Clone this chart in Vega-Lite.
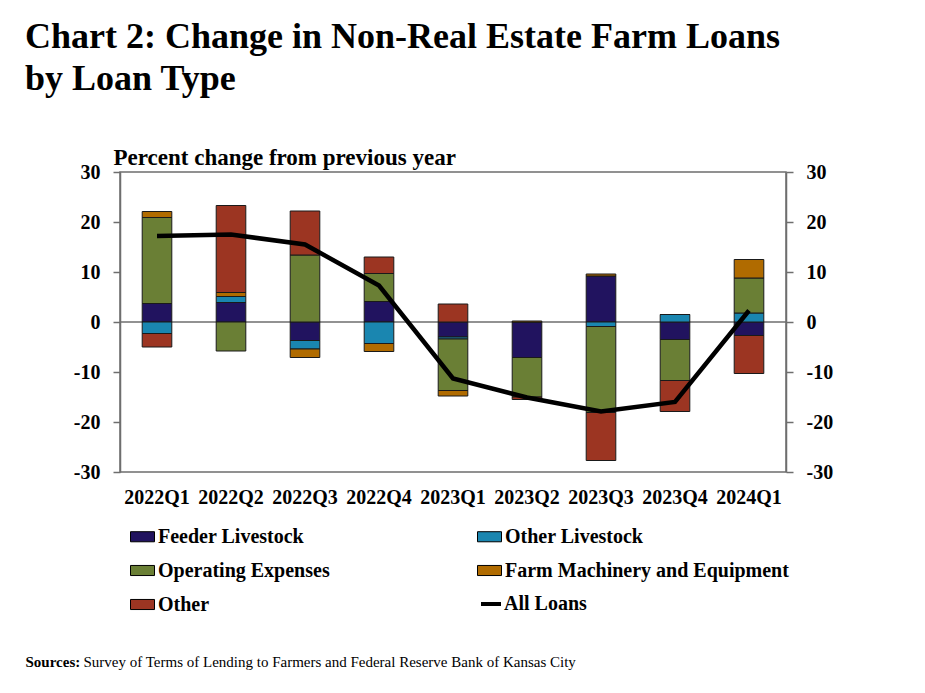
{
  "$schema": "https://vega.github.io/schema/vega-lite/v6.json",
  "width": 666,
  "height": 300,
  "autosize": {"type": "none"},
  "padding": {"left": 120, "top": 172, "right": 139, "bottom": 221},
  "background": "white",
  "config": {
    "font": "Liberation Serif",
    "view": {"stroke": "#6e6e6e", "strokeWidth": 1.5},
    "axis": {
      "grid": false,
      "labelFont": "Liberation Serif",
      "labelFontWeight": "bold",
      "labelFontSize": 20,
      "labelColor": "#000",
      "domainColor": "#6e6e6e",
      "domainWidth": 1.5,
      "tickColor": "#6e6e6e",
      "tickWidth": 1.5,
      "titleFont": "Liberation Serif",
      "titleColor": "#000"
    },
    "legend": {
      "labelFont": "Liberation Serif",
      "labelFontSize": 20,
      "labelFontWeight": "bold",
      "labelColor": "#000",
      "labelLimit": 400
    }
  },
  "title": {
    "text": ["Chart 2: Change in Non-Real Estate Farm Loans", "by Loan Type"],
    "anchor": "start",
    "frame": "group",
    "dx": -95,
    "offset": 48,
    "fontSize": 36,
    "fontWeight": "bold",
    "font": "Liberation Serif",
    "lineHeight": 42,
    "color": "#000"
  },
  "datasets": {
    "bars": [
      {"q": "2022Q1", "type": "Feeder Livestock", "order": 1, "value": 3.7},
      {"q": "2022Q1", "type": "Other Livestock", "order": 2, "value": -2.3},
      {"q": "2022Q1", "type": "Operating Expenses", "order": 3, "value": 17.2},
      {"q": "2022Q1", "type": "Farm Machinery and Equipment", "order": 4, "value": 1.2},
      {"q": "2022Q1", "type": "Other", "order": 5, "value": -2.7},
      {"q": "2022Q2", "type": "Feeder Livestock", "order": 1, "value": 3.9},
      {"q": "2022Q2", "type": "Other Livestock", "order": 2, "value": 1.2},
      {"q": "2022Q2", "type": "Operating Expenses", "order": 3, "value": -5.8},
      {"q": "2022Q2", "type": "Farm Machinery and Equipment", "order": 4, "value": 0.8},
      {"q": "2022Q2", "type": "Other", "order": 5, "value": 17.4},
      {"q": "2022Q3", "type": "Feeder Livestock", "order": 1, "value": -3.7},
      {"q": "2022Q3", "type": "Other Livestock", "order": 2, "value": -1.7},
      {"q": "2022Q3", "type": "Operating Expenses", "order": 3, "value": 13.4},
      {"q": "2022Q3", "type": "Farm Machinery and Equipment", "order": 4, "value": -1.7},
      {"q": "2022Q3", "type": "Other", "order": 5, "value": 8.8},
      {"q": "2022Q4", "type": "Feeder Livestock", "order": 1, "value": 4.1},
      {"q": "2022Q4", "type": "Other Livestock", "order": 2, "value": -4.3},
      {"q": "2022Q4", "type": "Operating Expenses", "order": 3, "value": 5.6},
      {"q": "2022Q4", "type": "Farm Machinery and Equipment", "order": 4, "value": -1.6},
      {"q": "2022Q4", "type": "Other", "order": 5, "value": 3.3},
      {"q": "2023Q1", "type": "Feeder Livestock", "order": 1, "value": -3.0},
      {"q": "2023Q1", "type": "Other Livestock", "order": 2, "value": -0.4},
      {"q": "2023Q1", "type": "Operating Expenses", "order": 3, "value": -10.3},
      {"q": "2023Q1", "type": "Farm Machinery and Equipment", "order": 4, "value": -1.1},
      {"q": "2023Q1", "type": "Other", "order": 5, "value": 3.6},
      {"q": "2023Q2", "type": "Feeder Livestock", "order": 1, "value": -7.1},
      {"q": "2023Q2", "type": "Other Livestock", "order": 2, "value": 0.0},
      {"q": "2023Q2", "type": "Operating Expenses", "order": 3, "value": -7.9},
      {"q": "2023Q2", "type": "Farm Machinery and Equipment", "order": 4, "value": 0.2},
      {"q": "2023Q2", "type": "Other", "order": 5, "value": -0.5},
      {"q": "2023Q3", "type": "Feeder Livestock", "order": 1, "value": 9.2},
      {"q": "2023Q3", "type": "Other Livestock", "order": 2, "value": -0.9},
      {"q": "2023Q3", "type": "Operating Expenses", "order": 3, "value": -17.2},
      {"q": "2023Q3", "type": "Farm Machinery and Equipment", "order": 4, "value": 0.4},
      {"q": "2023Q3", "type": "Other", "order": 5, "value": -9.6},
      {"q": "2023Q4", "type": "Feeder Livestock", "order": 1, "value": -3.5},
      {"q": "2023Q4", "type": "Other Livestock", "order": 2, "value": 1.5},
      {"q": "2023Q4", "type": "Operating Expenses", "order": 3, "value": -8.2},
      {"q": "2023Q4", "type": "Farm Machinery and Equipment", "order": 4, "value": 0.0},
      {"q": "2023Q4", "type": "Other", "order": 5, "value": -6.2},
      {"q": "2024Q1", "type": "Feeder Livestock", "order": 1, "value": -2.7},
      {"q": "2024Q1", "type": "Other Livestock", "order": 2, "value": 1.8},
      {"q": "2024Q1", "type": "Operating Expenses", "order": 3, "value": 7.0},
      {"q": "2024Q1", "type": "Farm Machinery and Equipment", "order": 4, "value": 3.7},
      {"q": "2024Q1", "type": "Other", "order": 5, "value": -7.6}
    ],
    "line": [
      {"q": "2022Q1", "label": "All Loans", "value": 17.2},
      {"q": "2022Q2", "label": "All Loans", "value": 17.5},
      {"q": "2022Q3", "label": "All Loans", "value": 15.5},
      {"q": "2022Q4", "label": "All Loans", "value": 7.3},
      {"q": "2023Q1", "label": "All Loans", "value": -11.3},
      {"q": "2023Q2", "label": "All Loans", "value": -15.1},
      {"q": "2023Q3", "label": "All Loans", "value": -17.9},
      {"q": "2023Q4", "label": "All Loans", "value": -16.0},
      {"q": "2024Q1", "label": "All Loans", "value": 2.3}
    ]
  },
  "resolve": {"axis": {"x": "independent", "y": "independent"}},
  "layer": [
    {
      "data": {"values": [{"zero": 0}]},
      "mark": {"type": "rule", "color": "#6e6e6e", "strokeWidth": 1.5},
      "encoding": {
        "y": {"field": "zero", "type": "quantitative", "axis": null, "scale": {"domain": [-30, 30], "nice": false}}
      }
    },
    {
      "data": {"name": "bars"},
      "mark": {"type": "bar", "stroke": "#1a1a1a", "strokeWidth": 1},
      "encoding": {
        "x": {
          "field": "q", "type": "nominal", "sort": null,
          "scale": {"paddingInner": 0.6, "paddingOuter": 0.3},
          "axis": {
            "orient": "bottom", "labelAngle": 0, "domain": false, "ticks": false, "labelPadding": 15,
            "title": "Sources:", "titleFontSize": 15, "titleFontWeight": "bold",
            "titleX": -95, "titleY": 194, "titleAlign": "left", "titleBaseline": "alphabetic"
          }
        },
        "y": {
          "field": "value", "type": "quantitative", "stack": "zero",
          "scale": {"domain": [-30, 30], "nice": false},
          "axis": {
            "orient": "left", "values": [-30, -20, -10, 0, 10, 20, 30],
            "labelExpr": "toString(datum.value)", "tickSize": 7, "labelPadding": 13,
            "title": "Percent change from previous year", "titleFontSize": 23, "titleFontWeight": "bold",
            "titleAngle": 0, "titleAlign": "left", "titleBaseline": "alphabetic", "titleX": -7, "titleY": -8
          }
        },
        "fill": {
          "field": "type", "type": "nominal",
          "scale": {
            "domain": ["Feeder Livestock", "Other Livestock", "Operating Expenses", "Farm Machinery and Equipment", "Other"],
            "range": ["#21135f", "#1a86b0", "#6a7f35", "#b06b00", "#9c3522"]
          },
          "legend": {
            "orient": "none", "legendX": 10, "legendY": 352, "columns": 2, "direction": "horizontal", "title": null,
            "symbolType": "M-1,-0.42H1V0.42H-1Z", "symbolSize": 576,
            "symbolStrokeColor": "#000", "symbolStrokeWidth": 1,
            "labelOffset": 3, "rowPadding": 11, "columnPadding": 145
          }
        },
        "order": {"field": "order", "type": "quantitative"}
      }
    },
    {
      "data": {"name": "line"},
      "mark": {"type": "line", "strokeWidth": 4.5},
      "encoding": {
        "x": {
          "field": "q", "type": "nominal", "sort": null,
          "axis": {
            "orient": "bottom", "labels": false, "ticks": false, "domain": false,
            "title": "Survey of Terms of Lending to Farmers and Federal Reserve Bank of Kansas City",
            "titleFontSize": 15, "titleFontWeight": "normal",
            "titleX": -37, "titleY": 194, "titleAlign": "left", "titleBaseline": "alphabetic"
          }
        },
        "y": {
          "field": "value", "type": "quantitative",
          "axis": {
            "orient": "right", "values": [-30, -20, -10, 0, 10, 20, 30],
            "labelExpr": "toString(datum.value)", "tickSize": 7, "labelPadding": 13, "title": null
          }
        },
        "stroke": {
          "field": "label", "type": "nominal",
          "scale": {"range": ["#000000"]},
          "legend": {
            "orient": "none", "legendX": 359, "legendY": 420, "title": null,
            "symbolType": "stroke", "symbolSize": 400, "symbolStrokeWidth": 4,
            "labelOffset": 1
          }
        }
      }
    }
  ]
}
